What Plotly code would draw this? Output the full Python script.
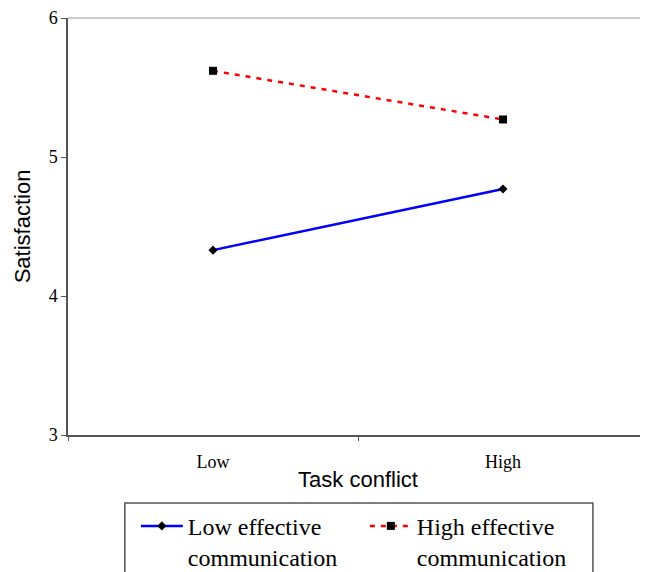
import plotly.graph_objects as go

categories = ["Low", "High"]
low_comm = [4.33, 4.77]
high_comm = [5.62, 5.27]
series_names = ["Low effective<br>communication", "High effective<br>communication"]
y_ticks = [3, 4, 5, 6]

fig = go.Figure()
fig.add_trace(go.Scatter(
    x=categories, y=low_comm, name=series_names[0], mode="lines+markers",
    line=dict(color="#0000ff", width=2.5),
    marker=dict(symbol="diamond", size=7, color="black"),
))
fig.add_trace(go.Scatter(
    x=categories, y=high_comm, name=series_names[1], mode="lines+markers",
    line=dict(color="#ff0000", width=2.5, dash="5px,6px"),
    marker=dict(symbol="square", size=8, color="black"),
))

# page body has an 8px margin; compensate so the plot area lands where the reference has it
fig.update_layout(
    width=640, height=564,
    margin=dict(l=60, r=0, t=10, b=137, autoexpand=False),
    paper_bgcolor="white", plot_bgcolor="white",
    showlegend=True,
    legend=dict(
        orientation="h", x=0.117, y=-0.165, xanchor="left", yanchor="top",
        borderwidth=0, valign="top", bgcolor="rgba(0,0,0,0)",
        font=dict(family="Liberation Serif, Times New Roman, serif", size=24, color="black"),
        entrywidth=172, itemwidth=42, tracegroupgap=0,
    ),
    xaxis=dict(
        type="category", range=[-0.5, 1.5], tickson="boundaries",
        ticks="outside", ticklen=4, tickcolor="#555555",
        showline=True, linecolor="#555555", linewidth=1.5,
        showgrid=False, zeroline=False, ticklabelstandoff=10,
        tickfont=dict(family="Liberation Serif, Times New Roman, serif", size=18, color="black"),
        title=dict(text="Task conflict", font=dict(family="Liberation Sans, Arial, sans-serif", size=22, color="black"), standoff=0),
    ),
    yaxis=dict(
        range=[3, 6], tickvals=y_ticks,
        ticks="outside", ticklen=5, tickcolor="#555555",
        showline=True, linecolor="#555555", linewidth=1.5,
        showgrid=False, zeroline=False,
        tickfont=dict(family="Liberation Serif, Times New Roman, serif", size=18, color="black"),
        title=dict(text="Satisfaction", font=dict(family="Liberation Sans, Arial, sans-serif", size=22, color="black"), standoff=12),
    ),
    shapes=[
        dict(type="line", xref="paper", yref="paper", x0=0, x1=1, y0=1, y1=1,
             line=dict(color="#bbbbbb", width=1.5)),
        dict(type="rect", xref="paper", yref="paper", x0=0.098, x1=0.905, y0=-0.163, y1=-0.40,
             line=dict(color="#555555", width=1.5), fillcolor="rgba(0,0,0,0)"),
    ],
)

fig.write_html("out.html")
